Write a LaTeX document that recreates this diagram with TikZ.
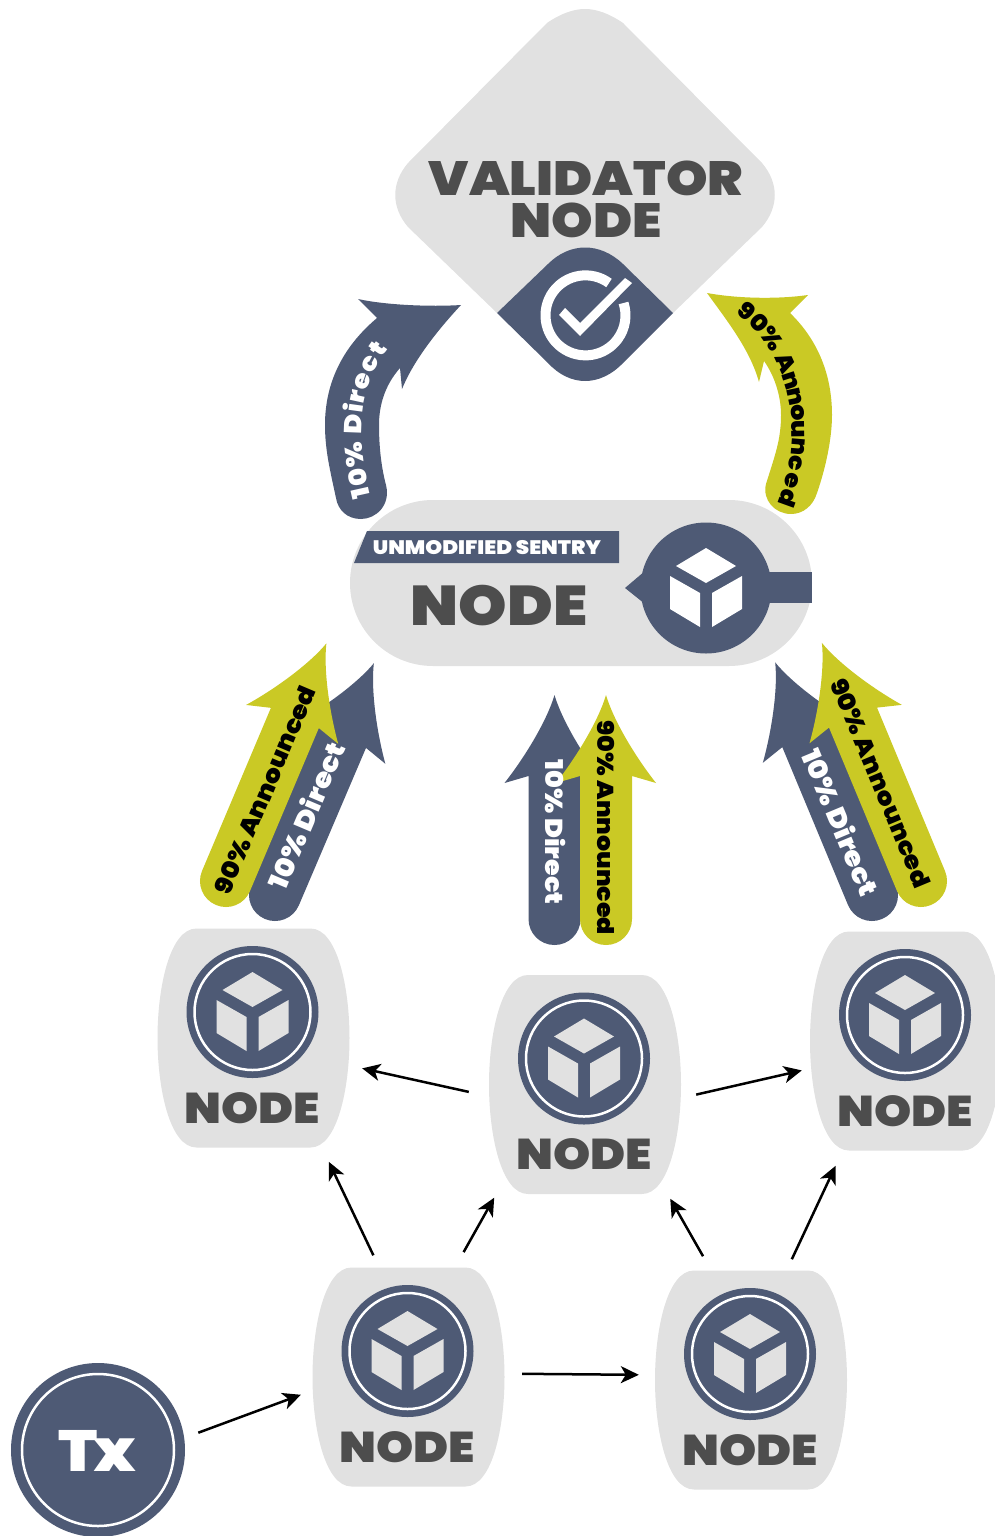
\documentclass[tikz,border=0pt]{standalone}
\usepackage{fontspec}
\usepackage{tikz}
\usetikzlibrary{arrows.meta}

\newfontfamily\labelfont{Poppins}[UprightFont=* Black,FakeStretch=1.1]

\definecolor{cardgray}{HTML}{E1E1E1}
\definecolor{slate}{HTML}{4E5A75}
\definecolor{olive}{HTML}{CAC925}
\definecolor{inkgray}{HTML}{4D4D4D}

\newcommand{\cubefaces}[1]{
\fill [#1] (0,-40) -- (30,-22) -- (0,-5) -- (-30,-22) -- cycle;
\fill [#1] (-36,-12) -- (-6,5) -- (-6,39) -- (-36,21) -- cycle;
\fill [#1] (36,-12) -- (6,5) -- (6,39) -- (36,21) -- cycle;
}

\newcommand{\bigarrow}[4]{
\fill [#1,shift={(#2)},rotate=#3] (0,-#4) .. controls (7,-#4+24) and (28,-#4+60) .. (50,-#4+88) -- (26,-#4+81) -- (26,0) .. controls (26,14.4) and (14.4,26) .. (0,26) .. controls (-14.4,26) and (-26,14.4) .. (-26,0) -- (-26,-#4+81) -- (-50,-#4+88) .. controls (-28,-#4+60) and (-7,-#4+24) .. cycle;
}

\tikzset{
arrowtext/.style={font=\labelfont\fontsize{23}{23}\selectfont,text=black,inner sep=0},
directtext/.style={font=\labelfont\fontsize{24.5}{24.5}\selectfont,text=white,inner sep=0},
slantarrowtext/.style={arrowtext,font=\labelfont\fontsize{24}{24}\selectfont},
slantdirecttext/.style={directtext,font=\labelfont\fontsize{26.5}{26.5}\selectfont},
cardtext/.style={font=\labelfont\fontsize{43}{43}\selectfont,text=inkgray,inner sep=0},
thinarrow/.style={black,line width=2.5,-{Stealth[length=18pt,width=17pt,inset=5pt]}},
nodecard/.pic={
\fill [cardgray] (-57,-109.5) .. controls (-84,-109.5) and (-96,-50) .. (-96,0) .. controls (-96,50) and (-84,109.5) .. (-57,109.5) -- (57,109.5) .. controls (84,109.5) and (96,50) .. (96,0) .. controls (96,-50) and (84,-109.5) .. (57,-109.5) -- cycle;
\node [circle,fill=slate,minimum size=132,inner sep=0] (-icon) at (-1,-26) {};
\node [circle,draw=white,line width=2.5,minimum size=116,inner sep=0] (-ring) at (-1,-26) {};
\begin{scope}[shift={(-1,-26)}]
\cubefaces{cardgray}
\end{scope}
\node [cardtext] (-label) at (-1,70) {NODE};
\node [minimum width=192,minimum height=219,inner sep=0] (-body) at (0,0) {};
}
}

\begin{document}
\begin{tikzpicture}[x=1pt,y=-1pt]

\clip (0,0) rectangle (995,1536);

\fill [cardgray] (585,9) .. controls (573,9) and (560,14) .. (547,23) -- (408,163) .. controls (391,183) and (391,207) .. (408,227) -- (497,313) -- (673,313) -- (762,227) .. controls (779,207) and (779,183) .. (762,163) -- (623,23) .. controls (610,14) and (597,9) .. (585,9) -- cycle;

\fill [slate] (497,313) -- (548,264) .. controls (570,242) and (600,242) .. (623,264) -- (673,313) -- (623,363) .. controls (600,387) and (570,387) .. (548,363) -- cycle;

\draw [white,line width=10] (609,283) arc [start angle=-54,end angle=-378,radius=40];

\fill [white] (625,278) -- (632,283) -- (580,336) -- (559,315) -- (565,308) -- (580,323) -- cycle;

\node [font=\labelfont\fontsize{48}{42}\selectfont,text=inkgray,align=center,inner sep=0] (validator) at (586,199) {VALIDATOR\\NODE};

\fill [slate] (358,299) .. controls (385,305) and (430,307) .. (461,305) .. controls (435,333) and (413,362) .. (402,389) -- (400,368) .. controls (385,385) and (379,405) .. (379,425) .. controls (379,450) and (382,470) .. (386,485) .. controls (391,505) and (376,519) .. (361,519) .. controls (347,519) and (338,510) .. (336,498) .. controls (330,470) and (325,450) .. (325,425) .. controls (325,380) and (345,345) .. (377,318) -- cycle;

\fill [olive] (707,293) .. controls (740,299) and (780,299) .. (808,295) -- (790,313) .. controls (818,340) and (832,375) .. (832,415) .. controls (832,440) and (825,470) .. (817,493) .. controls (813,506) and (803,514) .. (791,514) .. controls (775,514) and (762,500) .. (766,484) .. controls (775,455) and (781,440) .. (781,415) .. controls (781,395) and (774,375) .. (764,361) -- (759,382) .. controls (750,350) and (728,322) .. (707,293) -- cycle;

\foreach \ch/\p [count=\n] in {1/.04,0/.146,\%/.292,D/.488,i/.587,r/.657,e/.755,c/.868,t/.962}
\path (371,497) .. controls (360,450) and (352,395) .. (389,348) node (arcdirect\n) [directtext,pos=\p,sloped,allow upside down,anchor=base] {\ch};

\foreach \ch/\p [count=\n] in {9/.039,0/.119,\%/.213,A/.344,n/.43,n/.507,o/.584,u/.66,n/.737,c/.81,e/.883,d/.96}
\path (735,312) .. controls (790,355) and (808,430) .. (777,505) node (arcannounced\n) [arrowtext,pos=\p,sloped,allow upside down,anchor=base] {\ch};

\node [rectangle,rounded corners=83,fill=cardgray,minimum width=462,minimum height=166,inner sep=0] (sentry) at (581,583) {};

\fill [slate] (354,563) -- (367,531) -- (619,531) -- (619,563) -- cycle;

\node [font=\labelfont\fontsize{19.5}{20}\selectfont,text=white,inner sep=0] (sentrytag) at (487,548) {UNMODIFIED SENTRY};

\node [font=\labelfont\fontsize{56}{56}\selectfont,text=inkgray,inner sep=0] (sentrylabel) at (499,606) {NODE};

\fill [slate] (625,588) -- (645,571) -- (645,604) -- cycle;

\fill [slate] (760,572) -- (812,572) -- (812,603) -- (760,603) -- cycle;

\node [circle,fill=slate,minimum size=131,inner sep=0] (sentryicon) at (706,588) {};

\begin{scope}[shift={(706,588)}]
\cubefaces{white}
\end{scope}

\bigarrow{slate}{275,895}{-23.1}{252}

\bigarrow{olive}{226,881}{-22.9}{258}

\bigarrow{slate}{554.5,919}{0}{224}

\bigarrow{olive}{606,919}{0}{224}

\bigarrow{slate}{872,895}{22.6}{252}

\bigarrow{olive}{921,881}{22.6}{258}

\node [slantdirecttext,rotate=67] (leftdirect) at (306,815) {10\% Direct};

\node [slantarrowtext,rotate=67] (leftannounced) at (265,790) {90\% Announced};

\node [directtext,rotate=-90] (middirect) at (556,832) {10\% Direct};

\node [arrowtext,rotate=-90] (midannounced) at (606,828) {90\% Announced};

\node [slantdirecttext,rotate=-67.4] (rightdirect) at (841,822) {10\% Direct};

\node [slantarrowtext,rotate=-67.4] (rightannounced) at (881,783) {90\% Announced};

\pic (left) at (253.5,1038) {nodecard};

\pic (mid) at (585,1084.5) {nodecard};

\pic (right) at (906,1041) {nodecard};

\pic (lower) at (408.5,1377) {nodecard};

\pic (other) at (751,1380) {nodecard};

\node [circle,fill=slate,minimum size=174,inner sep=0] (tx) at (98,1450) {};

\node [circle,draw=white,line width=2.5,minimum size=152,inner sep=0] (txring) at (98,1450) {};

\node [font=\labelfont\fontsize{58}{58}\selectfont,text=white,inner sep=0] (txlabel) at (97.5,1451) {T\kern-4pt x};

\draw [thinarrow,shorten <=14.9,shorten >=12.2] (tx.8) -- (lower-body.188.8);

\draw [thinarrow,shorten <=17.5,shorten >=16] (lower-body.2.4) -- (other-body.177.3);

\draw [thinarrow,shorten <=20.5,shorten >=12.8] (mid-body.187) -- (left-body.-16.4);

\draw [thinarrow,shorten <=15.4,shorten >=8.2] (mid-body.-8.2) -- (right-body.196.4);

\draw [thinarrow,shorten <=13.3,shorten >=15.6] (lower-body.105.2) -- (left-body.-58.5);

\draw [thinarrow,shorten <=17.4,shorten >=4] (lower-body.67.2) -- (mid-body.231.4);

\draw [thinarrow,shorten <=16.2,shorten >=5.2] (other-body.110.6) -- (mid-body.-53.6);

\draw [thinarrow,shorten <=12.2,shorten >=16.7] (other-body.72.3) -- (right-body.240.5);

\end{tikzpicture}
\end{document}
